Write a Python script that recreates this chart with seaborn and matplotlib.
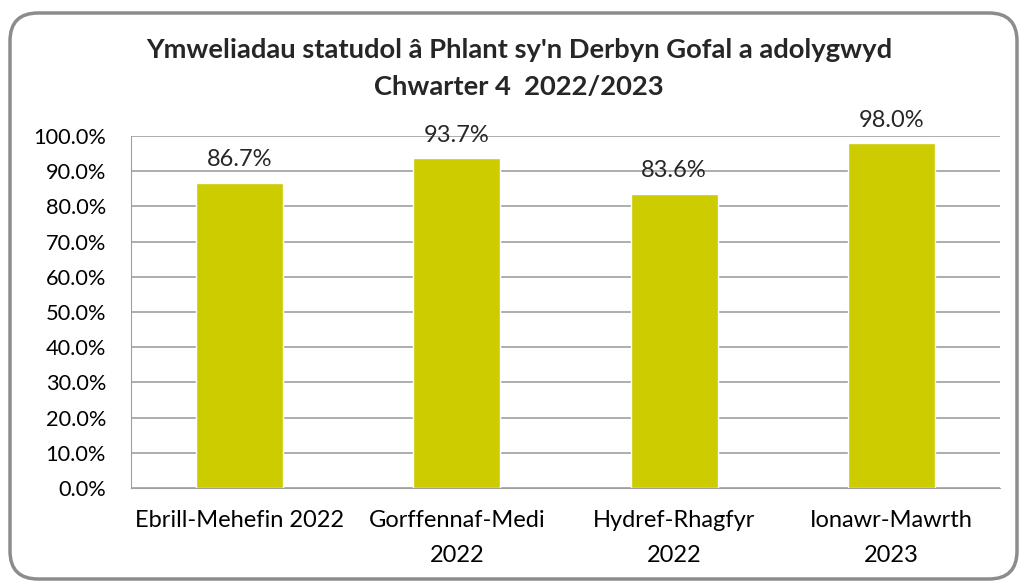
import matplotlib
matplotlib.use('Agg')
import matplotlib.pyplot as plt
import seaborn as sns
import pandas as pd
from matplotlib.patches import FancyBboxPatch
from matplotlib.ticker import FuncFormatter, MultipleLocator

categories = ['Ebrill-Mehefin 2022', 'Gorffennaf-Medi\n2022', 'Hydref-Rhagfyr\n2022', 'Ionawr-Mawrth\n2023']
values = [86.7, 93.7, 83.6, 98.0]
title = "Ymweliadau statudol â Phlant sy'n Derbyn Gofal a adolygwyd\nChwarter 4  2022/2023"

sns.set_style('white')
plt.rcParams['font.family'] = ['Lato', 'DejaVu Sans']

df = pd.DataFrame({'Chwarter': categories, 'Canran': values})

fig = plt.figure(figsize=(10.19, 5.81), dpi=100)

# rounded frame around the whole chart
bg = fig.add_axes([0, 0, 1, 1], zorder=0)
bg.set_xlim(0, 1019)
bg.set_ylim(581, 0)
bg.axis('off')
frame = FancyBboxPatch((10, 13), 1007, 566, boxstyle='round,pad=0,rounding_size=28',
                       facecolor='white', edgecolor='#8c8c8c', linewidth=2.5)
bg.add_patch(frame)

ax = fig.add_axes([131 / 1019, (581 - 488) / 581, 869 / 1019, 352 / 581], zorder=1)
ax.patch.set_alpha(0)
sns.barplot(data=df, x='Chwarter', y='Canran', color='#CCCC00', width=0.4,
            saturation=1, ax=ax, zorder=2)

ax.set_ylim(0, 100)
ax.yaxis.set_major_locator(MultipleLocator(10))
ax.yaxis.set_major_formatter(FuncFormatter(lambda v, p: f'{v:.1f}%'))
ax.grid(axis='y', color='#a0a0a0', linewidth=1.2, zorder=0)
ax.set_axisbelow(True)
for side in ['top', 'right']:
    ax.spines[side].set_visible(False)
ax.spines['left'].set_color('#a0a0a0')
ax.spines['bottom'].set_color('#a0a0a0')
ax.set_xlabel('')
ax.set_ylabel('')
ax.tick_params(axis='both', length=0, colors='black')
ax.tick_params(axis='x', pad=16, labelsize=17)
ax.tick_params(axis='y', pad=18, labelsize=15.7)
for lbl in ax.get_xticklabels():
    lbl.set_linespacing(1.8)

for c in ax.containers:
    ax.bar_label(c, labels=[f'{v:.1f}%' for v in values], padding=9, fontsize=17)

fig.suptitle(title, x=519 / 1019, y=1 - 38 / 581, fontsize=19.7, fontweight='bold',
             va='top', linespacing=1.65)

plt.savefig('out.png', dpi=100)
